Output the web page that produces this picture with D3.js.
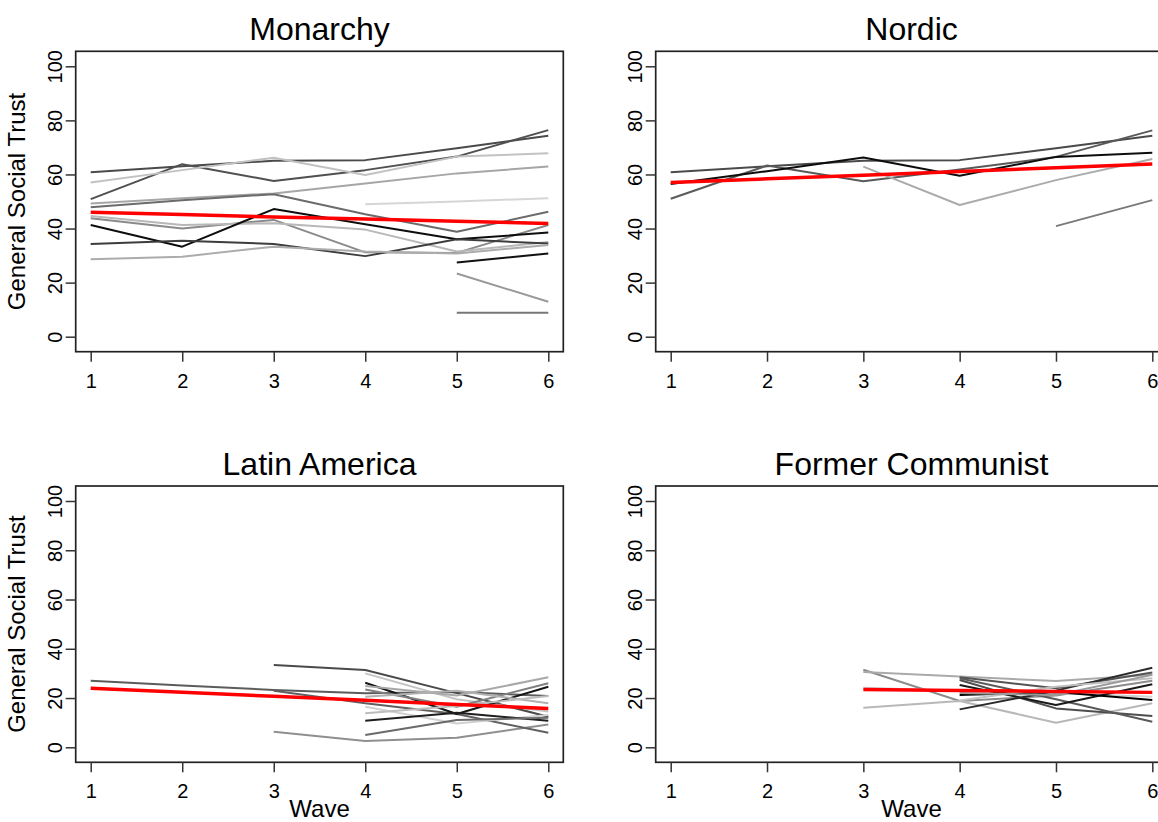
<!DOCTYPE html>
<html>
<head>
<meta charset="utf-8">
<script src="https://cdn.jsdelivr.net/npm/d3@7"></script>
<style>
  html, body { margin: 0; background: #fff; }
  svg { display: block; font-family: "Liberation Sans", Arial, Helvetica, sans-serif; }
</style>
</head>
<body>
<svg id="chart"></svg>
<script>
const waves = [1, 2, 3, 4, 5, 6];
const yTicks = [0, 20, 40, 60, 80, 100];
const _ = null;

// country series per region (value per wave, null = not surveyed)
const monarchy = [
  [60.8, 63.0, 65.1, 65.3, 69.7, 74.3],
  [50.9, 63.8, 57.6, 61.6, 66.6, 76.4],
  [57.0, 61.6, 66.2, 59.8, 66.6, 67.8],
  [49.3, 51.2, 53.0, 56.7, 60.4, 62.9],
  [47.9, 50.5, 52.7, 45.3, 38.8, 46.2],
  [43.8, 40.0, 43.2, 31.2, 31.0, 41.3],
  [44.6, 41.3, 42.0, 39.6, 31.5, 35.0],
  [41.3, 33.3, 47.2, 41.6, 36.0, 38.5],
  [34.3, 35.5, 34.3, 29.8, 36.0, 34.5],
  [28.6, 29.6, 33.3, 31.5, 30.8, 33.9],
  [_, _, _, 49.0, 50.0, 51.2],
  [_, _, _, _, 27.4, 30.8],
  [_, _, _, _, 23.4, 12.9],
  [_, _, _, _, 8.9, 8.9]
];
const monarchyTrend = [46.0, 45.2, 44.3, 43.5, 42.7, 41.9];

const nordic = [
  [60.8, 63.0, 65.1, 65.3, 69.7, 74.3],
  [51.0, 63.3, 57.5, 61.8, 66.5, 76.3],
  [56.5, 61.2, 66.3, 59.5, 66.5, 68.0],
  [_, _, 62.9, 48.7, 57.9, 65.7],
  [_, _, _, _, 40.9, 50.5]
];
const nordicTrend = [57.0, 58.4, 59.7, 61.1, 62.5, 63.9];

const latinAmerica = [
  [27.0, 25.1, 23.3, 21.9, 22.5, 20.8],
  [_, _, 33.4, 31.4, 22.0, 12.4],
  [_, _, 6.3, 2.6, 3.9, 9.3],
  [_, _, 23.0, 17.9, 13.5, 5.9],
  [_, _, _, 30.0, 19.5, 14.5],
  [_, _, _, 26.2, 13.5, 24.6],
  [_, _, _, 24.9, 21.0, 28.4],
  [_, _, _, 23.5, 16.5, 26.0],
  [_, _, _, 20.5, 23.0, 17.9],
  [_, _, _, 16.5, 9.7, 13.1],
  [_, _, _, 10.8, 14.0, 10.8],
  [_, _, _, 5.0, 11.1, 12.0],
  [_, _, _, 13.8, 16.8, 20.8]
];
const latinAmericaTrend = [24.0, 22.4, 20.7, 19.1, 17.4, 15.8];

const formerCommunist = [
  [_, _, 31.5, 18.8, 21.0, 27.0],
  [_, _, 30.6, 28.7, 26.9, 29.5],
  [_, _, 16.1, 18.8, 10.0, 17.9],
  [_, _, 24.2, 23.0, 22.0, 20.5],
  [_, _, _, 28.4, 24.0, 30.4],
  [_, _, _, 27.3, 15.8, 12.7],
  [_, _, _, 28.0, 19.5, 10.4],
  [_, _, _, 25.3, 17.2, 25.6],
  [_, _, _, 15.4, 23.0, 32.3],
  [_, _, _, 21.2, 22.5, 19.2],
  [_, _, _, 19.0, 24.6, 28.0],
  [_, _, _, 22.0, 21.2, 29.4]
];
const formerCommunistTrend = [_, _, 23.5, 23.1, 22.7, 22.3];

// grey shades used for the country lines, in drawing order
const monarchyShades = ['#4a4a4a', '#505050', '#c2c2c2', '#a6a6a6', '#6b6b6b', '#8a8a8a', '#b8b8b8',
  '#0d0d0d', '#3d3d3d', '#acacac', '#d6d6d6', '#111111', '#999999', '#777777'];
const nordicShades = ['#4a4a4a', '#5a5a5a', '#0d0d0d', '#ababab', '#7a7a7a'];
const latinShades = ['#5c5c5c', '#4a4a4a', '#8f8f8f', '#606060', '#c4c4c4', '#151515', '#a8a8a8',
  '#808080', '#b0b0b0', '#d0d0d0', '#1e1e1e', '#6a6a6a', '#bdbdbd'];
const communistShades = ['#8c8c8c', '#aaaaaa', '#b8b8b8', '#d0d0d0', '#555555', '#4d4d4d', '#5a5a5a',
  '#1a1a1a', '#2a2a2a', '#000000', '#c0c0c0', '#9a9a9a'];

const width = 1158;
const height = 822;
const svg = d3.select('#chart').attr('width', width).attr('height', height);

const panels = [
  { title: 'Monarchy', series: monarchy, trend: monarchyTrend, shades: monarchyShades,
    xr: [90.7, 548.3], yr: [336.7, 66.3], yLabel: true, xLabel: false },
  { title: 'Nordic', series: nordic, trend: nordicTrend, shades: nordicShades,
    xr: [670.7, 1152.3], yr: [336.7, 66.3], yLabel: false, xLabel: false },
  { title: 'Latin America', series: latinAmerica, trend: latinAmericaTrend, shades: latinShades,
    xr: [90.7, 548.3], yr: [747.3, 501], yLabel: true, xLabel: true },
  { title: 'Former Communist', series: formerCommunist, trend: formerCommunistTrend, shades: communistShades,
    xr: [670.7, 1152.3], yr: [747.3, 501], yLabel: false, xLabel: true }
];

const pad = 15;
const tickFont = '20px';

panels.forEach((p) => {
  const x = d3.scaleLinear().domain([1, 6]).range(p.xr);
  const y = d3.scaleLinear().domain([0, 100]).range(p.yr);

  const left = x(1) - pad;
  const right = x(6) + pad;
  const top = y(100) - pad;
  const bottom = y(0) + pad;

  const g = svg.append('g');

  const line = d3.line()
    .defined((d) => d != null)
    .x((d, i) => x(waves[i]))
    .y((d) => y(d));

  // country lines
  g.selectAll('path.country')
    .data(p.series)
    .enter()
    .append('path')
    .attr('class', 'country')
    .attr('d', line)
    .attr('fill', 'none')
    .attr('stroke', (d, i) => p.shades[i])
    .attr('stroke-width', 2)
    .attr('stroke-linejoin', 'round');

  // regional trend
  g.append('path')
    .attr('d', line(p.trend))
    .attr('fill', 'none')
    .attr('stroke', '#ff0000')
    .attr('stroke-width', 3.5);

  // box
  g.append('rect')
    .attr('x', left)
    .attr('y', top)
    .attr('width', right - left)
    .attr('height', bottom - top)
    .attr('fill', 'none')
    .attr('stroke', '#222')
    .attr('stroke-width', 1.7);

  // x axis
  const xAxis = g.append('g')
    .attr('transform', `translate(0,${bottom})`)
    .call(d3.axisBottom(x).tickValues(waves).tickSize(10).tickPadding(12).tickFormat(d3.format('d')));
  xAxis.select('.domain').remove();
  xAxis.selectAll('line').attr('stroke', '#333').attr('stroke-width', 1.5);
  xAxis.selectAll('text')
    .attr('fill', '#000')
    .style('font-size', tickFont)
    .style('font-family', '"Liberation Sans", Arial, sans-serif');

  // y axis with rotated labels
  const yAxis = g.append('g')
    .attr('transform', `translate(${left},0)`)
    .call(d3.axisLeft(y).tickValues(yTicks).tickSize(10).tickFormat(d3.format('d')));
  yAxis.select('.domain').remove();
  yAxis.selectAll('line').attr('stroke', '#333').attr('stroke-width', 1.5);
  yAxis.selectAll('text')
    .attr('x', null)
    .attr('dy', null)
    .attr('text-anchor', 'middle')
    .attr('transform', 'translate(-14,0) rotate(-90)')
    .attr('fill', '#000')
    .style('font-size', tickFont)
    .style('font-family', '"Liberation Sans", Arial, sans-serif');

  // title
  g.append('text')
    .attr('x', (left + right) / 2)
    .attr('y', top - 11)
    .attr('text-anchor', 'middle')
    .style('font-size', '32px')
    .text(p.title);

  if (p.yLabel) {
    g.append('text')
      .attr('transform', `translate(${left - 50.7},${(top + bottom) / 2}) rotate(-90)`)
      .attr('text-anchor', 'middle')
      .style('font-size', '24px')
      .text('General Social Trust');
  }

  if (p.xLabel) {
    g.append('text')
      .attr('x', (x(1) + x(6)) / 2)
      .attr('y', bottom + 54.5)
      .attr('text-anchor', 'middle')
      .style('font-size', '24px')
      .text('Wave');
  }
});
</script>
</body>
</html>
